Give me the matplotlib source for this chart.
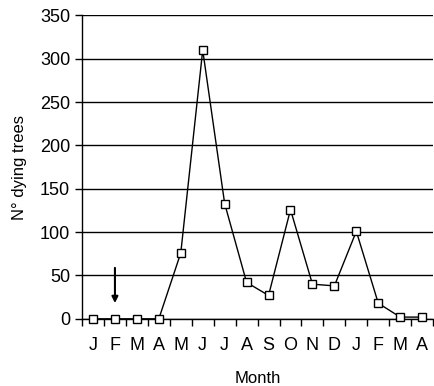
import matplotlib
matplotlib.use("Agg")
import matplotlib.pyplot as plt
import numpy as np

plt.rcParams["font.family"] = ["Liberation Sans", "DejaVu Sans"]

months = ["J", "F", "M", "A", "M", "J", "J", "A", "S", "O", "N", "D", "J", "F", "M", "A"]
dying_trees = [0, 0, 0, 0, 76, 310, 133, 42, 27, 126, 40, 38, 101, 18, 2, 2]
arrow_month = 1
arrow_from, arrow_to = 62, 15

fig = plt.figure(figsize=(4.34, 3.86), dpi=100)
ax = fig.add_axes([0.189, 0.174, 0.809, 0.786])

x = np.arange(len(months))
ax.plot(x, dying_trees, color="black", linewidth=1, marker="s", markersize=6,
        markerfacecolor="white", markeredgecolor="black", markeredgewidth=1,
        zorder=3, clip_on=False)

ax.set_ylim(0, 350)
ax.set_yticks(np.arange(0, 351, 50))
ax.yaxis.grid(True, color="black", linewidth=1)
ax.set_axisbelow(True)

ax.set_xlim(-0.5, len(months) - 0.5)
ax.set_xticks(np.arange(-0.5, len(months), 1))
ax.set_xticklabels([])
ax.set_xticks(x, minor=True)
ax.set_xticklabels(months, minor=True)
ax.tick_params(axis="x", which="major", direction="out", length=5, width=1, color="black")
ax.tick_params(axis="x", which="minor", length=0, pad=13, labelsize=13)
ax.tick_params(axis="y", direction="out", length=5, width=1, labelsize=13)

for side in ["top", "right"]:
    ax.spines[side].set_visible(False)
ax.spines["left"].set_linewidth(1)
ax.spines["bottom"].set_linewidth(1)

ax.annotate("", xy=(arrow_month, arrow_to), xytext=(arrow_month, arrow_from),
            arrowprops=dict(arrowstyle="-|>", color="black", lw=1.5, mutation_scale=9))

ax.set_ylabel("N° dying trees", fontsize=12, labelpad=9)
ax.set_xlabel("Month", fontsize=12, labelpad=12)

fig.savefig("out.png", dpi=100)
